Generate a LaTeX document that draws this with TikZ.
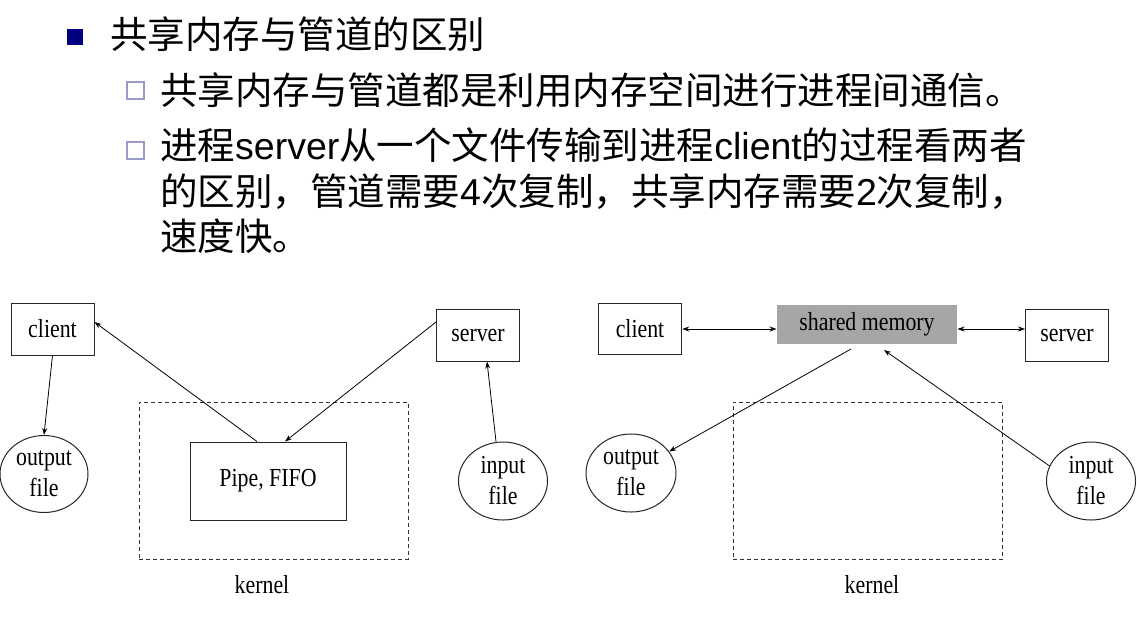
\documentclass[tikz,border=0pt]{standalone}
\usepackage{fontspec}
\setmainfont{Liberation Sans}
\newfontfamily\cjk{Noto Sans CJK SC}
\newfontfamily\tms[FakeStretch=0.84]{Liberation Serif}
\usetikzlibrary{shapes.geometric,arrows.meta}
\definecolor{navy}{HTML}{000080}
\definecolor{lav}{HTML}{9999CC}
\definecolor{shmgray}{HTML}{A6A6A6}
\newcommand{\zh}[1]{{\cjk #1}}
\begin{document}
\begin{tikzpicture}[x=1pt,y=-1pt,
  hdr/.style={anchor=base west,inner sep=0pt,font=\fontsize{37.5}{40}\selectfont},
  box/.style={draw=black!85,line width=1pt,minimum width=83pt,minimum height=52pt,inner sep=0pt,font=\tms\fontsize{26}{30}\selectfont},
  oval/.style={draw=black!85,line width=1pt,ellipse,inner sep=0pt,align=center,minimum width=89pt,minimum height=78pt,font=\tms\fontsize{26}{31}\selectfont},
  kbox/.style={draw=black!80,dash pattern=on 4pt off 3pt,line width=1pt,inner sep=0pt},
  lbl/.style={inner sep=0pt,font=\tms\fontsize{26}{30}\selectfont},
  arr/.style={-{Stealth[length=7pt,width=5pt]},line width=0.8pt},
  darr/.style={{Stealth[length=7pt,width=5pt]}-{Stealth[length=7pt,width=5pt]},line width=0.8pt},
  navybullet/.style={fill=navy,inner sep=0pt,minimum width=16pt,minimum height=16pt},
  hollowbullet/.style={draw=lav,fill=white,line width=1.6pt,inner sep=0pt,minimum width=17pt,minimum height=17pt}
]
\useasboundingbox[fill=white] (0,0) rectangle (1137,625);

% header
\node[navybullet] (b1) at (75,37) {};
\node[hdr] (t1) at (110,48) {\zh{共享内存与管道的区别}};
\node[hollowbullet] (b2) at (135.5,90.5) {};
\node[hdr] (t2) at (160,104) {\zh{共享内存与管道都是利用内存空间进行进程间通信。}};
\node[hollowbullet] (b3) at (135.5,150.5) {};
\node[hdr] (t3) at (160,159) {\zh{进程}server\zh{从一个文件传输到进程}client\zh{的过程看两者}};
\node[hdr] (t4) at (160,205) {\zh{的区别，管道需要}4\zh{次复制，共享内存需要}2\zh{次复制，}};
\node[hdr] (t5) at (160,250) {\zh{速度快。}};

% left diagram
\node[kbox,minimum width=269pt,minimum height=157pt] (lk) at (273.5,480.5) {};
\node[lbl] (lkl) at (262,585) {kernel};
\node[box] (lclient) at (52.5,329) {client};
\node[box] (lserver) at (478,335) {server};
\node[box,minimum width=156pt,minimum height=78pt] (pipe) at (268,481) {Pipe, FIFO};
\node[oval,minimum width=88pt,minimum height=77pt] (lout) at (44,474) {output\\file};
\node[oval] (lin) at (503,481) {input\\file};
\draw[arr] (lclient.south) -- (lout.north);
\draw[arr] ([xshift=-11pt]pipe.north) -- ([yshift=7pt]lclient.east);
\draw[arr] ([yshift=13pt]lserver.west) -- ([xshift=17pt]pipe.north);
\draw[arr] ([xshift=-7pt]lin.north) -- ([xshift=9pt]lserver.south);

% right diagram
\node[kbox,minimum width=269.6pt,minimum height=157pt] (rk) at (867.8,480.5) {};
\node[lbl] (rkl) at (872,585) {kernel};
\node[box,minimum width=83.6pt,minimum height=51pt] (rclient) at (640,328.5) {client};
\node[box,draw=none,fill=shmgray,minimum width=180pt,minimum height=39pt] (shm) at (867,324.5) {shared memory};
\node[box] (rserver) at (1067,335) {server};
\node[oval,minimum width=90pt] (rout) at (631,473) {output\\file};
\node[oval] (rin) at (1091,481) {input\\file};
\draw[darr] ([yshift=-0.5pt]rclient.east) -- ([yshift=-4.5pt]shm.west);
\draw[darr] ([yshift=-4.5pt]shm.east) -- ([yshift=6pt]rserver.west);
\coordinate (smout) at (851,349);
\coordinate (smin) at (884,350);
\draw[arr] (smout) -- (rout);
\draw[arr] (rin.160) -- (smin);
\end{tikzpicture}
\end{document}
